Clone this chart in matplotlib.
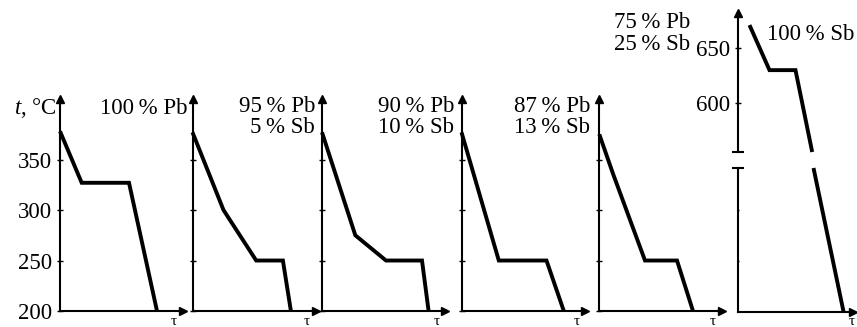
import matplotlib
matplotlib.use("Agg")
import matplotlib.pyplot as plt

plt.rcParams['font.family'] = ['Liberation Serif', 'DejaVu Serif']
plt.rcParams['mathtext.fontset'] = 'custom'
plt.rcParams['mathtext.rm'] = 'Liberation Serif'
plt.rcParams['mathtext.it'] = 'Liberation Serif:italic'

# ---------------- data (time in arbitrary units, temperature in °C) ----------------
time_100pb = [0, 21.7, 69, 97]
temp_100pb = [378, 327, 327, 200]

time_95pb = [0, 31, 63.7, 90.4, 98.4]
temp_95pb = [377, 300, 250, 250, 200]

time_90pb = [0, 33.3, 64, 100, 106.6]
temp_90pb = [377, 275, 250, 250, 200]

time_87pb = [0, 37.3, 85, 102.3]
temp_87pb = [377, 250, 250, 200]

time_75pb = [0, 13.7, 45.7, 77.7, 93.7]
temp_75pb = [375, 336, 250, 250, 200]

time_100sb_upper = [12, 32, 58, 74.7]
temp_100sb_upper = [671, 630, 630, 555.5]
time_100sb_lower = [76, 106]
temp_100sb_lower = [342, 200]

labels_pb = ["100\u2009% Pb", "95\u2009% Pb", "90\u2009% Pb", "87\u2009% Pb", "75\u2009% Pb"]
labels_sb = [None, "5\u2009% Sb", "10\u2009% Sb", "13\u2009% Sb", "25\u2009% Sb"]
label_pure_sb = "100\u2009% Sb"
yticks_main = [200, 250, 300, 350]
yticks_sb_upper = [600, 650]
yticks_sb_lower = [250, 300]

W, H = 857, 327
fig = plt.figure(figsize=(W / 100, H / 100), dpi=100)

FS = 16.5
LW_AX = 1.5
LW_CURVE = 2.8


def add_ax(left_px, top_px, bottom_px, width_px):
    return fig.add_axes([left_px / W, (H - bottom_px) / H,
                         width_px / W, (bottom_px - top_px) / H])


def style(ax, xaxis=True, yarrow=True):
    for s in ['top', 'right']:
        ax.spines[s].set_visible(False)
    ax.spines['left'].set_linewidth(LW_AX)
    ax.spines['bottom'].set_linewidth(LW_AX)
    if not xaxis:
        ax.spines['bottom'].set_visible(False)
    ax.set_xticks([])
    ax.patch.set_alpha(0)
    ax.tick_params(axis='y', direction='inout', length=5, width=1.0,
                   labelsize=FS, pad=3)
    if yarrow:
        ax.plot(0, 1, marker='^', color='k', markersize=6,
                transform=ax.transAxes, clip_on=False)
    if xaxis:
        ax.plot(1, 0, marker='>', color='k', markersize=6,
                transform=ax.transAxes, clip_on=False)


panel_left = [60, 192.5, 322, 461.5, 599.3]
panel_series = [(time_100pb, temp_100pb), (time_95pb, temp_95pb),
                (time_90pb, temp_90pb), (time_87pb, temp_87pb),
                (time_75pb, temp_75pb)]

for i, (left, (t, T)) in enumerate(zip(panel_left, panel_series)):
    ax = add_ax(left, 99, 311, 123)
    ax.set_xlim(0, 123)
    ax.set_ylim(200, 410)
    style(ax)
    ax.set_yticks(yticks_main)
    if i == 0:
        ax.set_yticklabels([str(v) for v in yticks_main])
    else:
        ax.set_yticklabels([])
    ax.plot(t, T, color='k', lw=LW_CURVE, solid_joinstyle='miter',
            solid_capstyle='butt', clip_on=False)

# pure Sb panel: broken axis
ax_u = add_ax(737.5, 13, 152, 115)
ax_u.set_xlim(0, 115)
ax_u.set_ylim(555.5, 682)
style(ax_u, xaxis=False)
ax_u.set_yticks(yticks_sb_upper)
ax_u.set_yticklabels([str(v) for v in yticks_sb_upper])
ax_u.plot(0, 0, marker='_', color='k', markersize=9, mew=1.5,
          transform=ax_u.transAxes, clip_on=False)
ax_u.plot(time_100sb_upper, temp_100sb_upper, color='k', lw=LW_CURVE,
          solid_joinstyle='miter', solid_capstyle='butt', clip_on=False)

ax_l = add_ax(737.5, 168, 311.5, 115)
ax_l.set_xlim(0, 115)
ax_l.set_ylim(200, 342)
style(ax_l, yarrow=False)
ax_l.set_yticks(yticks_sb_lower)
ax_l.set_yticklabels([])
ax_l.tick_params(axis='y', length=2)
ax_l.plot(0, 1, marker='_', color='k', markersize=9, mew=1.5,
          transform=ax_l.transAxes, clip_on=False)
ax_l.plot(time_100sb_lower, temp_100sb_lower, color='k', lw=LW_CURVE,
          solid_joinstyle='miter', solid_capstyle='butt', clip_on=False)

# ---------------- texts ----------------
def ftext(x_px, y_px, s, ha, fs=FS, va='center'):
    fig.text(x_px / W, 1 - y_px / H, s, ha=ha, va=va, fontsize=fs)

ftext(57, 108, r'$\it{t}$, °C', 'right')
ftext(187, 108, labels_pb[0], 'right')
label_right = [315, 454, 590]
for k, xr in enumerate(label_right, start=1):
    ftext(xr, 106, labels_pb[k], 'right')
    ftext(xr, 128, labels_sb[k], 'right')
ftext(614, 22, labels_pb[4], 'left')
ftext(614, 44, labels_sb[4], 'left')
ftext(767, 35, label_pure_sb, 'left')

# time-axis symbol under each arrow
tau_x = [174, 307, 437, 577, 713, 852]
for xp in tau_x:
    ftext(xp, 315, 'τ', 'center', fs=11, va='top')

fig.savefig('out.png', dpi=100)
